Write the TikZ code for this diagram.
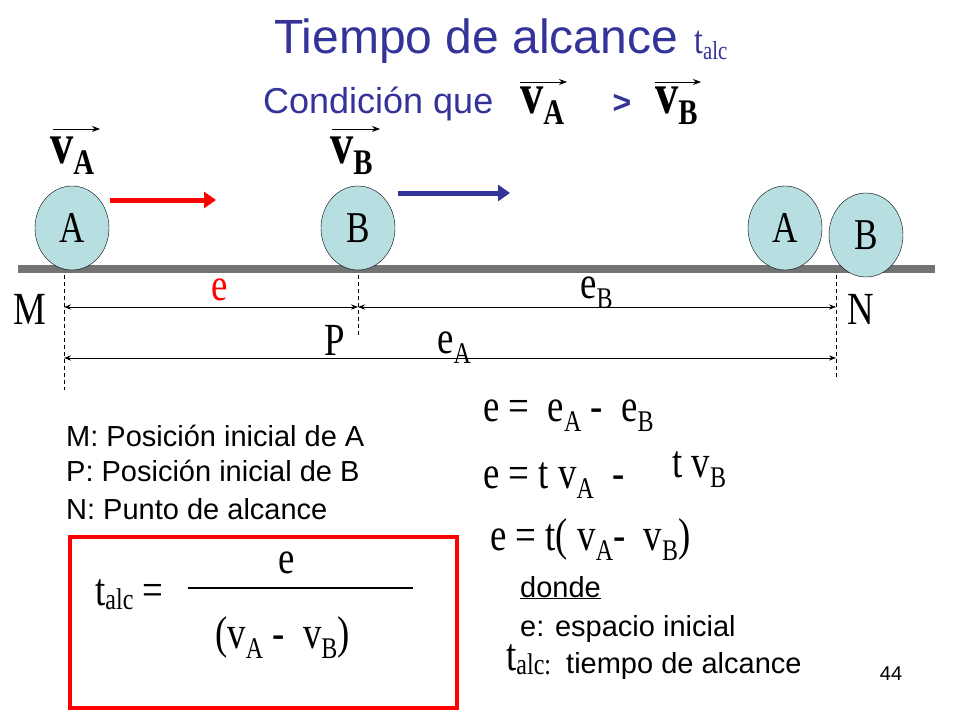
\documentclass[tikz,border=0pt]{standalone}
\usepackage{fontspec}
\setmainfont{Liberation Serif}
\newfontfamily\tms[FakeStretch=0.8]{Liberation Serif}
\newfontfamily\arial{Liberation Sans}
\usetikzlibrary{arrows.meta,shapes.geometric}
\definecolor{tblue}{HTML}{333399}
\definecolor{ball}{HTML}{B7DFE2}
\newcommand{\sbx}[1]{\raisebox{-0.22em}{\fontsize{30}{30}\selectfont #1}}
\newcommand{\sbb}[1]{\raisebox{-0.2em}{\fontsize{36}{36}\selectfont #1}}
\begin{document}
\begin{tikzpicture}[x=1pt,y=-1pt,
  ballst/.style={draw=black,fill=ball,ellipse,minimum width=74pt,minimum height=84pt,inner sep=0pt,font=\tms\fontsize{44}{44}\selectfont},
  dimar/.style={{Stealth[length=7pt]}-{Stealth[length=7pt]},line width=1pt},
  dashv/.style={dashed,line width=0.6pt,dash pattern=on 4pt off 3pt},
  lbl/.style={inner sep=0pt,anchor=base,font=\tms\fontsize{46}{46}\selectfont},
  vv/.style={inner sep=0pt,anchor=base west,font=\tms\bfseries\fontsize{58}{58}\selectfont},
  sf/.style={inner sep=0pt,anchor=base west,font=\arial\fontsize{29}{29}\selectfont}]
\useasboundingbox (0,0) rectangle (960,720);
\fill[white] (0,0) rectangle (960,720);
% title
\node[inner sep=0pt,anchor=base west,font=\arial\fontsize{48}{48}\selectfont,text=tblue] (title) at (274,53) {Tiempo de alcance};
\node[inner sep=0pt,anchor=base west,font=\tms\fontsize{40}{40}\selectfont,text=tblue] (talc0) at (694,53) {t\raisebox{-0.15em}{\fontsize{26}{26}\selectfont alc}};
\node[inner sep=0pt,anchor=base west,font=\arial\fontsize{36}{36}\selectfont,text=tblue] (cond) at (263,113) {Condici\'on que};
\node[vv] (cva) at (520,113) {v\sbb{A}};
\node[inner sep=0pt,anchor=base,font=\arial\bfseries\fontsize{32}{32}\selectfont,text=tblue] (gt) at (622,113) {>};
\node[vv] (cvb) at (655,113) {v\sbb{B}};
\draw[-{Stealth[length=8pt]},line width=0.8pt] (520,82) -- (567,82);
\draw[-{Stealth[length=8pt]},line width=0.8pt] (655,82) -- (701,82);
% velocity labels
\node[vv] (va) at (50,163) {v\sbb{A}};
\node[vv] (vb) at (330,163) {v\sbb{B}};
\draw[-{Stealth[length=8pt]},line width=0.8pt] (53,129) -- (100,129);
\draw[-{Stealth[length=8pt]},line width=0.8pt] (332,129) -- (380,129);
% road
\fill[gray!90!black] (18,265) rectangle (935,273);
% balls
\node[ballst] (A1) at (72,228) {A};
\node[ballst] (B1) at (358,228) {B};
\node[ballst] (A2) at (785,228) {A};
\node[ballst] (B2) at (866,235) {B};
\draw[red,line width=5pt,-{Triangle[length=12pt,width=16pt]}] (110,200) -- (216,200);
\draw[tblue,line width=5pt,-{Triangle[length=12pt,width=16pt]}] (398,193) -- (510,193);
% dashed
\coordinate (m1) at (64,275); \coordinate (m2) at (64,390);
\coordinate (p1) at (358,275); \coordinate (p2) at (358,337);
\coordinate (n1) at (836,275); \coordinate (n2) at (836,380);
\draw[dashv] (m1) -- (m2); \draw[dashv] (p1) -- (p2); \draw[dashv] (n1) -- (n2);
\coordinate (d1) at (64,307); \coordinate (d2) at (358,307); \coordinate (d3) at (836,307);
\coordinate (f1) at (64,358); \coordinate (f2) at (836,358);
\draw[dimar] (d1) -- (d2); \draw[dimar] (d2) -- (d3); \draw[dimar] (f1) -- (f2);
\node[lbl] (M) at (30,324) {M};
\node[lbl] (N) at (861,324) {N};
\node[lbl] (P) at (335,355) {P};
\node[lbl,text=red] (e) at (220,300) {e};
\node[lbl,anchor=base west] (eB) at (580,298) {e\sbx{B}};
\node[lbl,anchor=base west] (eA) at (437,353) {e\sbx{A}};
% legend
\node[sf] (l1) at (66,446) {M: Posici\'on inicial de A};
\node[sf] (l2) at (66,481) {P: Posici\'on inicial de B};
\node[sf] (l3) at (66,519) {N: Punto de alcance};
% equations
\node[lbl,anchor=base west] (q1) at (483,421) {e = \ e\sbx{A} - \ e\sbx{B}};
\node[lbl,anchor=base west] (q2) at (483,488) {e = t v\sbx{A} \ -};
\node[lbl,anchor=base west] (q2b) at (672,477) {t v\sbx{B}};
\node[lbl,anchor=base west] (q3) at (490,550) {e = t( v\sbx{A}- \ v\sbx{B})};
\node[sf] (donde) at (520,597) {\underline{donde}};
\node[sf] (d2t) at (520,636) {e: espacio inicial};
\node[sf] (d3t) at (566,673) {tiempo de alcance};
\node[lbl,anchor=base west] (talc2) at (506,670) {t\raisebox{-0.1em}{\fontsize{30}{30}\selectfont alc:}};
\node[inner sep=0pt,anchor=base,font=\arial\fontsize{20}{20}\selectfont] (pg) at (891,680) {44};
% box
\draw[red,line width=4pt] (70,537) rectangle (457,708);
\node[lbl] (fe) at (287,573) {e};
\draw[line width=2.5pt] (188,588) -- (413,588);
\node[lbl,anchor=base west] (ft) at (95,605) {t\raisebox{-0.1em}{\fontsize{30}{30}\selectfont alc} =};
\node[lbl,anchor=base west] (fd) at (215,648) {(v\sbx{A} - \ v\sbx{B})};
\end{tikzpicture}
\end{document}
